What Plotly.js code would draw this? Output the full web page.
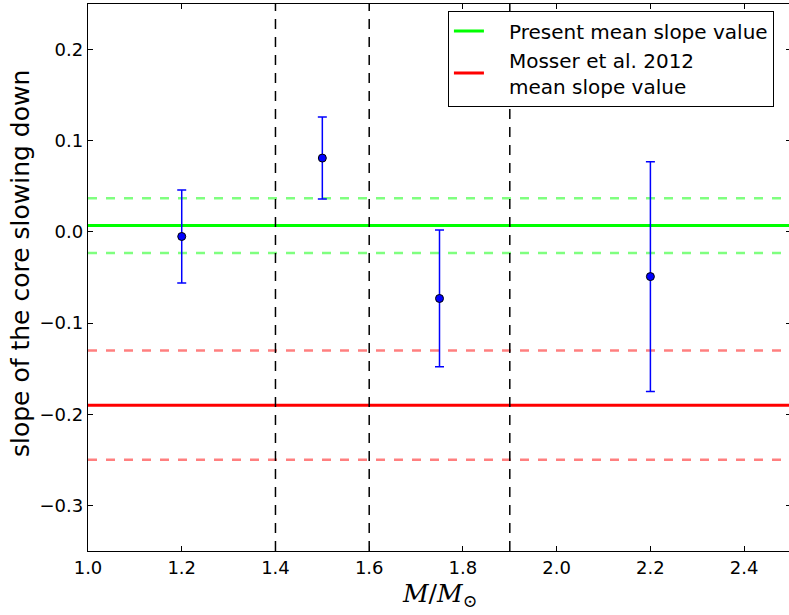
<!DOCTYPE html>
<html>
<head>
<meta charset="utf-8">
<script src="https://cdn.plot.ly/plotly-3.0.1.min.js"></script>
<style>
html, body { margin: 0; padding: 0; overflow: hidden; background: #fff; }
#chart { width: 792px; height: 615px; }
</style>
</head>
<body>
<div id="chart"></div>
<script>
// Data
const massValues = [1.2, 1.5, 1.75, 2.2];
const slopeValues = [-0.005, 0.081, -0.073, -0.049];
const slopeErrors = [0.051, 0.045, 0.075, 0.126];

const boundaryMasses = [1.4, 1.6, 1.9];

const presentMean = 0.007;
const presentLow = -0.023;
const presentHigh = 0.037;

const mosserMean = -0.19;
const mosserLow = -0.25;
const mosserHigh = -0.13;

const xRange = [1.0, 2.5];
const yRange = [-0.35, 0.25];

const legendNames = ["\u2002\u2002Present mean slope value", "\u2002\u2002Mosser et al. 2012<br>\u2002\u2002mean slope value"];

function hline(y, color, width, dash, name, show) {
  return {
    type: 'scatter', mode: 'lines',
    x: [xRange[0], xRange[1]], y: [y, y],
    line: {color: color, width: width, dash: dash},
    name: name || '', showlegend: !!show, hoverinfo: 'skip'
  };
}

const traces = [];
traces.push(hline(presentHigh, 'rgba(0,255,0,0.5)', 2.5, '9px,9px'));
traces.push(hline(presentLow, 'rgba(0,255,0,0.5)', 2.5, '9px,9px'));
traces.push(hline(mosserHigh, 'rgba(255,0,0,0.5)', 2.5, '9px,9px'));
traces.push(hline(mosserLow, 'rgba(255,0,0,0.5)', 2.5, '9px,9px'));
traces.push(hline(presentMean, '#00ff00', 3, 'solid', legendNames[0], true));
traces.push(hline(mosserMean, '#ff0000', 3, 'solid', legendNames[1], true));

boundaryMasses.forEach(function (m) {
  traces.push({
    type: 'scatter', mode: 'lines',
    x: [m, m], y: [yRange[0], yRange[1]],
    line: {color: '#000000', width: 1.5, dash: '10px,8px'},
    showlegend: false, hoverinfo: 'skip'
  });
});

traces.push({
  type: 'scatter', mode: 'markers',
  x: massValues, y: slopeValues,
  marker: {color: '#0000ff', size: 8, line: {color: '#000000', width: 1}},
  error_y: {type: 'data', array: slopeErrors, visible: true, color: '#0000ff', thickness: 1.5, width: 4.5},
  showlegend: false
});

const layout = {
  width: 792, height: 615,
  margin: {l: 88, r: 1, t: 4, b: 64},
  paper_bgcolor: '#ffffff', plot_bgcolor: '#ffffff',
  font: {family: 'DejaVu Sans', size: 18, color: '#000000'},
  showlegend: true,
  legend: {
    x: 0.512, y: 0.988, xanchor: 'left', yanchor: 'top',
    bordercolor: '#000000', borderwidth: 1, bgcolor: '#ffffff',
    font: {family: 'DejaVu Sans', size: 20, color: '#000000'},
    traceorder: 'normal'
  },
  xaxis: {
    range: xRange, tick0: 1.0, dtick: 0.2, tickformat: '.1f',
    showgrid: false, zeroline: false,
    showline: true, linecolor: '#000000', linewidth: 1.3, mirror: 'ticks',
    ticks: 'inside', ticklen: 5, tickwidth: 1, tickcolor: '#000000',
    tickfont: {family: 'DejaVu Sans', size: 18}
  },
  yaxis: {
    range: yRange, tick0: 0, dtick: 0.1, tickformat: '.1f',
    showgrid: false, zeroline: false,
    showline: true, linecolor: '#000000', linewidth: 1.3, mirror: 'ticks',
    ticks: 'inside', ticklen: 5, tickwidth: 1, tickcolor: '#000000',
    tickfont: {family: 'DejaVu Sans', size: 18}
  },
  annotations: [
    {
      text: 'slope of the core slowing down', xref: 'paper', yref: 'paper',
      x: -0.095, y: 0.525, xanchor: 'center', yanchor: 'middle', textangle: -90,
      showarrow: false, font: {family: 'DejaVu Sans', size: 25, color: '#000000'}
    },
    {
      text: '<i>M</i>/<i>M</i><sub>⊙</sub>', xref: 'paper', yref: 'paper',
      x: 0.5, y: -0.08, xanchor: 'center', yanchor: 'middle',
      showarrow: false, font: {family: 'DejaVu Serif', size: 25, color: '#000000'}
    }
  ]
};

Plotly.newPlot('chart', traces, layout, {displayModeBar: false, staticPlot: true});
</script>
</body>
</html>
